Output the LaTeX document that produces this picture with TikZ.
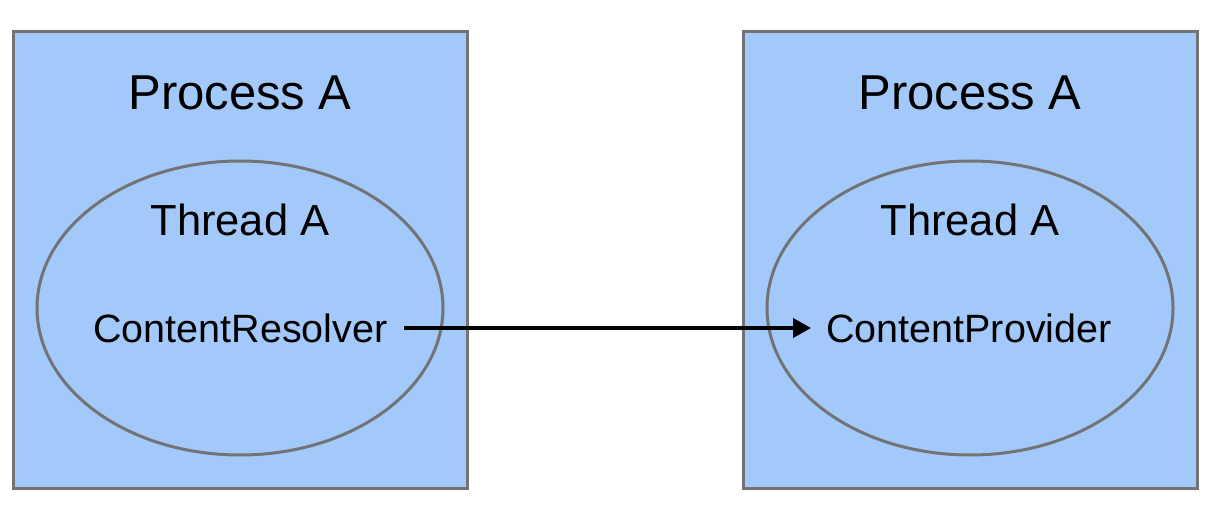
\documentclass[tikz,border=0pt]{standalone}
\usepackage{fontspec}
\setmainfont{Liberation Sans}
\usetikzlibrary{arrows.meta}
\definecolor{boxfill}{RGB}{163,201,250}
\definecolor{boxline}{RGB}{115,115,118}
\tikzset{
  procbox/.style={draw=boxline, line width=3pt, fill=boxfill},
  threadell/.style={draw=boxline, line width=3pt, fill=boxfill, ellipse},
  proclabel/.style={font=\fontsize{49}{55}\selectfont, inner sep=0pt},
  threadlabel/.style={font=\fontsize{43.5}{50}\selectfont, inner sep=0pt},
  complabel/.style={font=\fontsize{39.5}{45}\selectfont, inner sep=0pt},
  callarrow/.style={line width=4pt, -{Triangle[length=18pt,width=19pt]}}
}
\begin{document}
\begin{tikzpicture}[x=1pt,y=-1pt]
\useasboundingbox (0,0) rectangle (1220,526);
\fill[white] (0,0) rectangle (1220,526);
% left process
\draw[procbox] (13,32) rectangle (467,488);
\draw[procbox] (240,308) ellipse [x radius=203, y radius=147];
\node[proclabel] (pA) at (240,93) {Process A};
\node[threadlabel] (tA) at (240,220) {Thread A};
\node[complabel, anchor=base west] (cr) at (93,342) {ContentResolver};
% right process
\draw[procbox] (743,32) rectangle (1197,488);
\draw[procbox] (970,308) ellipse [x radius=203, y radius=147];
\node[proclabel] (pB) at (970,93) {Process A};
\node[threadlabel] (tB) at (970,220) {Thread A};
\node[complabel, anchor=base west] (cp) at (826,342) {ContentProvider};
\draw[callarrow] ([xshift=16pt]cr.east |- 0,328) -- ([xshift=-15pt]cp.west |- 0,328);
\end{tikzpicture}
\end{document}
